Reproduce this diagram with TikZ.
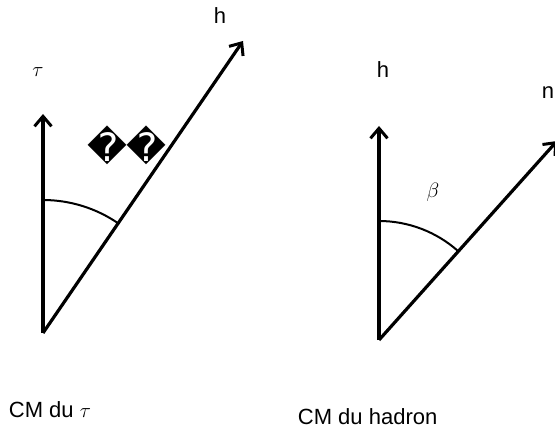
\documentclass[tikz,border=0pt]{standalone}
\usepackage{fontspec}
\setmainfont{Liberation Sans}
\newfontfamily\symbfont{DejaVu Sans}
\usetikzlibrary{arrows.meta,angles,positioning}

\begin{document}
\begin{tikzpicture}[x=1pt,y=-1pt,line width=3.2pt,font=\fontsize{22}{26}\selectfont,
    vec/.style={-{Straight Barb[length=10pt,width=17pt,line width=3pt]}}]
    \useasboundingbox (0,0) rectangle (555,428);
    % CM du tau
    \coordinate (Ot) at (43,333);
    \coordinate (tau) at (43,114);
    \coordinate (ht) at (243,41);
    \draw [vec] (Ot) -- (tau);
    \draw [vec] (Ot) -- (ht);
    \path (ht) -- (Ot) -- (tau) pic [draw,line width=2pt,angle radius=133pt] {angle = ht--Ot--tau};
    \node (taulbl) at (38,72) {$\tau$};
    \node (hlblt) at (220,16) {h};
    \node [font=\symbfont\fontsize{39}{39}\selectfont] (unk) at (127,145) {��};
    \node [anchor=west] (cmtau) at (4,410) {CM du $\tau$};
    % CM du hadron
    \coordinate (Oh) at (379,340);
    \coordinate (hh) at (379,126);
    \coordinate (n) at (557,141);
    \draw [vec] (Oh) -- (hh);
    \draw [vec] (Oh) -- (n);
    \path (n) -- (Oh) -- (hh) pic [draw,line width=2pt,angle radius=119pt] {angle = n--Oh--hh};
    \node (hlblh) at (383,70) {h};
    \node (nlbl) at (548,93) {n};
    \node (beta) at (433,192) {$\beta$};
    \node [anchor=west] (cmhad) at (293,417) {CM du hadron};
\end{tikzpicture}
\end{document}
